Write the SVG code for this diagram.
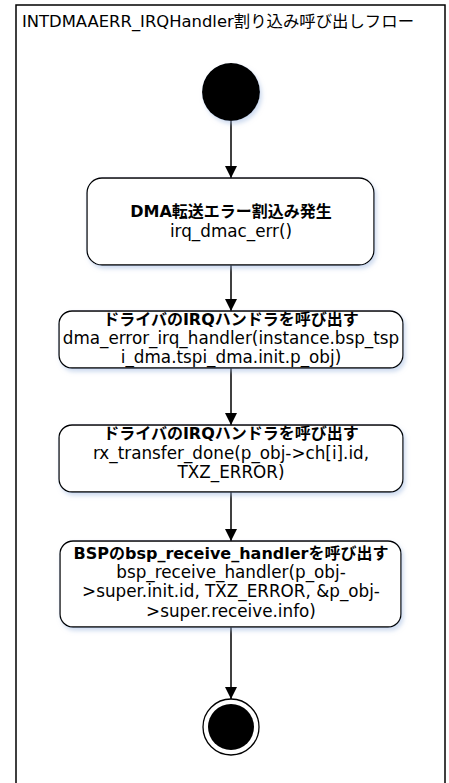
<svg xmlns="http://www.w3.org/2000/svg" width="449" height="783" viewBox="0 0 449 783">
<defs>
<style>
.t{font-family:"DejaVu Sans","Noto Sans CJK JP",sans-serif;font-size:16.8px;fill:#000;text-anchor:middle}
.b{font-weight:bold;font-size:16px}
.node{fill:#fff;stroke:#000;stroke-width:1.3}
.edge{stroke:#000;stroke-width:1.5;fill:none}
</style>
<filter id="sh" x="-10%" y="-10%" width="130%" height="140%">
<feDropShadow dx="2" dy="3" stdDeviation="2" flood-color="#9fb8e0" flood-opacity="0.5"/>
</filter>
<marker id="ar" viewBox="0 0 12 12" refX="12" refY="6" markerWidth="12" markerHeight="12" markerUnits="userSpaceOnUse" orient="auto">
<path d="M0,0 L12,6 L0,12 Z" fill="#000"/>
</marker>
</defs>
<rect x="0" y="0" width="449" height="783" fill="#fff"/>
<g id="frame">
<rect x="16" y="5" width="429" height="790" fill="#fff" stroke="#000" stroke-width="1.5"/>
<text x="22" y="27" font-family="DejaVu Sans,'Noto Sans CJK JP',sans-serif" font-size="16.4" fill="#000">INTDMAAERR_IRQHandler割り込み呼び出しフロー</text>
</g>
<g id="connectors">
<line class="edge" x1="231" y1="121" x2="231" y2="178" marker-end="url(#ar)"/>
<line class="edge" x1="231" y1="265" x2="231" y2="311" marker-end="url(#ar)"/>
<line class="edge" x1="231" y1="368" x2="231" y2="425" marker-end="url(#ar)"/>
<line class="edge" x1="231" y1="492" x2="231" y2="541" marker-end="url(#ar)"/>
<line class="edge" x1="231" y1="627" x2="231" y2="699" marker-end="url(#ar)"/>
</g>
<g id="start">
<circle cx="231" cy="92" r="29" fill="#000" filter="url(#sh)"/>
</g>
<g id="n1">
<rect class="node" x="87" y="178" width="287" height="87" rx="15" filter="url(#sh)"/>
<text class="t b" x="231" y="217">DMA転送エラー割込み発生</text>
<text class="t" x="231" y="237">irq_dmac_err()</text>
</g>
<g id="n2">
<rect class="node" x="59" y="311" width="344" height="57" rx="13" filter="url(#sh)"/>
<text class="t b" x="231" y="325">ドライバのIRQハンドラを呼び出す</text>
<text class="t" x="231" y="344">dma_error_irq_handler(instance.bsp_tsp</text>
<text class="t" x="231" y="363">i_dma.tspi_dma.init.p_obj)</text>
</g>
<g id="n3">
<rect class="node" x="59" y="425" width="344" height="67" rx="13" filter="url(#sh)"/>
<text class="t b" x="231" y="439">ドライバのIRQハンドラを呼び出す</text>
<text class="t" x="231" y="459">rx_transfer_done(p_obj-&gt;ch[i].id,</text>
<text class="t" x="231" y="478">TXZ_ERROR)</text>
</g>
<g id="n4">
<rect class="node" x="60" y="541" width="341" height="86" rx="13" filter="url(#sh)"/>
<text class="t b" x="231" y="559">BSPのbsp_receive_handlerを呼び出す</text>
<text class="t" x="231" y="578">bsp_receive_handler(p_obj-</text>
<text class="t" x="231" y="597">&gt;super.init.id, TXZ_ERROR, &amp;p_obj-</text>
<text class="t" x="231" y="617">&gt;super.receive.info)</text>
</g>
<g id="end">
<circle cx="231" cy="727" r="28" fill="#fff" stroke="#000" stroke-width="1.3"/>
<circle cx="231" cy="727" r="23" fill="#000"/>
</g>
</svg>
